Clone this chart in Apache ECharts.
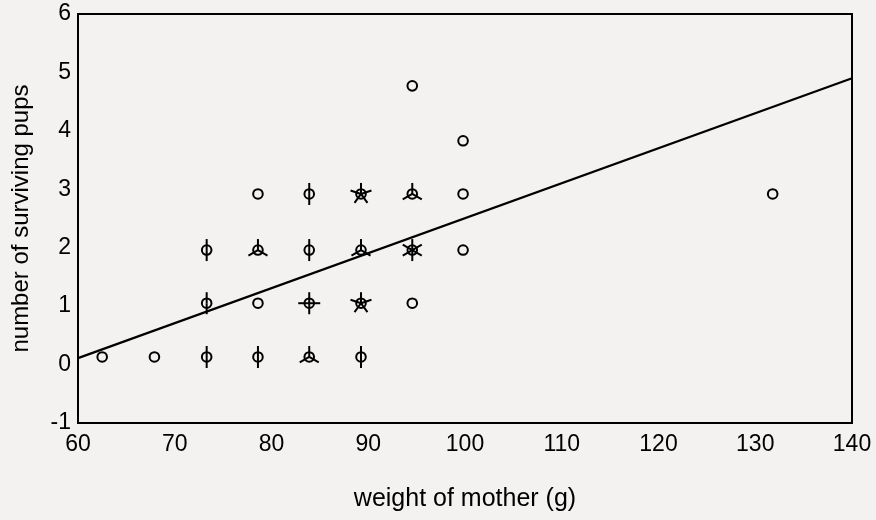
<!DOCTYPE html>
<html>
<head>
<meta charset="utf-8">
<script src="https://cdn.jsdelivr.net/npm/echarts@6/dist/echarts.min.js"></script>
<style>
html,body{margin:0;padding:0;background:#f3f2f1;}
#chart{width:876px;height:520px;}
</style>
</head>
<body>
<div id="chart"></div>
<script>
var weightX = [62.5, 67.9, 73.3, 78.6, 83.9, 89.25,
               73.3, 78.6, 83.9, 89.25, 94.55,
               73.3, 78.6, 83.9, 89.25, 94.55, 99.8,
               78.6, 83.9, 89.25, 94.55, 99.8, 131.8,
               99.8,
               94.55];
var pupsY = [0.13, 0.13, 0.13, 0.13, 0.13, 0.13,
             1.05, 1.05, 1.05, 1.05, 1.05,
             1.96, 1.96, 1.96, 1.96, 1.96, 1.96,
             2.92, 2.92, 2.92, 2.92, 2.92, 2.92,
             3.83,
             4.77];
var obsCount = [1, 1, 2, 2, 3, 2,
                2, 1, 4, 5, 1,
                2, 3, 2, 3, 6, 1,
                1, 2, 5, 3, 1, 1,
                1,
                1];
// regression line end points
var fitX = [60, 140];
var fitY = [0.11, 4.9];
var xTicks = [60, 70, 80, 90, 100, 110, 120, 130, 140];
var yTicks = [-1, 0, 1, 2, 3, 4, 5, 6];

var pts = weightX.map(function (x, i) { return [x, pupsY[i], obsCount[i]]; });
var fit = fitX.map(function (x, i) { return [x, fitY[i]]; });

var FONT = "'Liberation Sans', Arial, sans-serif";
var chart = echarts.init(document.getElementById('chart'), null, {renderer: 'canvas'});
chart.setOption({
  backgroundColor: '#f3f2f1',
  animation: false,
  grid: {left: 78, right: 24, top: 14, bottom: 97, show: true, borderColor: '#000', borderWidth: 2, backgroundColor: 'transparent'},
  xAxis: {
    type: 'value', min: xTicks[0], max: xTicks[xTicks.length - 1], interval: 10,
    name: 'weight of mother (g)', nameLocation: 'middle', nameGap: 64,
    nameTextStyle: {fontFamily: FONT, fontSize: 25, color: '#000'},
    axisLine: {show: true, onZero: false, lineStyle: {color: '#000', width: 2}},
    axisTick: {show: false}, splitLine: {show: false},
    axisLabel: {fontFamily: FONT, fontSize: 23, color: '#000', margin: 10}
  },
  yAxis: {
    type: 'value', min: yTicks[0], max: yTicks[yTicks.length - 1], interval: 1,
    name: 'number of surviving pups', nameLocation: 'middle', nameGap: 45,
    nameTextStyle: {fontFamily: FONT, fontSize: 24, color: '#000'},
    axisLine: {show: true, onZero: false, lineStyle: {color: '#000', width: 2}},
    axisTick: {show: false}, splitLine: {show: false},
    axisLabel: {fontFamily: FONT, fontSize: 23, color: '#000', margin: 7}
  },
  series: [
    {
      type: 'line', data: fit, symbol: 'none',
      lineStyle: {color: '#000', width: 2.2}, silent: true, z: 2
    },
    {
      type: 'custom', data: pts, z: 3,
      renderItem: function (params, api) {
        var c = api.coord([api.value(0), api.value(1)]);
        var n = api.value(2);
        var children = [{
          type: 'circle', shape: {cx: c[0], cy: c[1], r: 4.8},
          style: {fill: 'none', stroke: '#000', lineWidth: 2}
        }];
        if (n > 1) {
          for (var k = 0; k < n; k++) {
            var a = -Math.PI / 2 + k * 2 * Math.PI / n;
            children.push({
              type: 'line',
              shape: {x1: c[0], y1: c[1], x2: c[0] + 11 * Math.cos(a), y2: c[1] + 11 * Math.sin(a)},
              style: {stroke: '#000', lineWidth: 2}
            });
          }
        }
        return {type: 'group', children: children};
      }
    }
  ]
});
</script>
</body>
</html>
